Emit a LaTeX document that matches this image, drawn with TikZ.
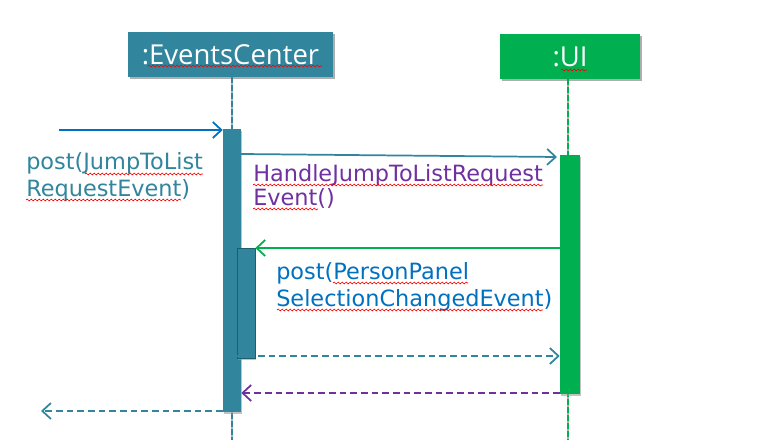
\documentclass[tikz,border=0pt]{standalone}
\usepackage{fontspec}
\setmainfont{DejaVu Sans}
\newfontfamily\titlefont{Open Sans}
\usetikzlibrary{arrows.meta,shadows,decorations.pathmorphing}
\definecolor{teal}{HTML}{31859C}
\definecolor{uigreen}{HTML}{00B050}
\definecolor{msgblue}{HTML}{0070C0}
\definecolor{msgpurple}{HTML}{7030A0}
\tikzset{
  px/.style={x=0.75pt,y=-0.75pt},
  titlebox/.style={rectangle, inner sep=0pt, text=white, font=\titlefont\fontsize{20.6}{24}\selectfont,
     drop shadow={shadow xshift=1.2pt, shadow yshift=-1.6pt, fill=black!45, opacity=0.7}},
  actbar/.style={rectangle, inner sep=0pt, minimum width=13.5pt,
     drop shadow={shadow xshift=0.8pt, shadow yshift=-1.2pt, fill=black!40, opacity=0.6}},
  lifebase/.style={line width=2pt, black!30},
  lifedash/.style={line width=1.6pt, dash pattern=on 4pt off 2pt},
  msg/.style={line width=1.3pt, -{Straight Barb[length=6.5pt,width=12pt,line width=1.3pt]}},
  ret/.style={msg, dash pattern=on 5pt off 3pt},
  lbl/.style={inner sep=0pt, anchor=base west, font=\fontsize{16.8}{20}\selectfont},
  squig/.style={red, line width=0.5pt, decorate, decoration={snake, amplitude=0.7pt, segment length=3pt}}
}
\begin{document}
\begin{tikzpicture}[px]
\useasboundingbox (0,0) rectangle (757,448);
% lifelines
\coordinate (ecEnd) at (232,440);
\coordinate (uiEnd) at (568,440);
\node[titlebox, fill=teal, minimum width=153.75pt, minimum height=33.75pt] (ec) at (230.5,54.5) {:EventsCenter};
\node[titlebox, fill=uigreen, minimum width=105pt, minimum height=33.75pt] (ui) at (570,56.5) {:UI};
\draw[lifebase] (ec.south -| ecEnd) -- (ecEnd);
\draw[lifedash, teal] (ec.south -| ecEnd) -- (ecEnd);
\draw[lifebase] (ui.south -| uiEnd) -- (uiEnd);
\draw[lifedash, uigreen] (ui.south -| uiEnd) -- (uiEnd);
% activation bars
\node[actbar, fill=teal, minimum height=212.25pt] (ecA) at (232,270.5) {};
\node[actbar, fill=teal, draw=teal!70!black, line width=0.4pt, minimum height=82.5pt] (ecB) at (246,303) {};
\node[actbar, fill=uigreen, minimum width=15pt, minimum height=179.25pt] (uiA) at (570,274.5) {};
% messages
\coordinate (m1s) at (59,130);
\draw[msg, msgblue] (m1s) -- (m1s -| ecA.west);
\coordinate (m2s) at (241,154);
\coordinate (m2e) at (557,157);
\draw[msg, teal] (m2s) -- (m2e);
\coordinate (m3) at (0,248);
\draw[msg, uigreen] (m3 -| uiA.west) -- (m3 -| ecB.east);
\coordinate (m4) at (0,356);
\draw[ret, teal] (m4 -| ecB.west) -- (m4 -| uiA.west);
\coordinate (m5) at (0,393);
\draw[ret, msgpurple] (m5 -| uiA.west) -- (m5 -| ecA.east);
\coordinate (m6e) at (41,411);
\draw[ret, teal] (m6e -| ecA.west) -- (m6e);
% labels
\node[lbl, text=teal] (l1a) at (26,170) {post(JumpToList};
\node[lbl, text=teal] (l1b) at (26,197) {RequestEvent)};
\node[lbl, text=msgpurple] (l2a) at (253,182) {HandleJumpToListRequest};
\node[lbl, text=msgpurple] (l2b) at (253,206) {Event()};
\node[lbl, text=msgblue] (l3a) at (276,280) {post(PersonPanel};
\node[lbl, text=msgblue] (l3b) at (276,307) {SelectionChangedEvent)};
% spell-check squiggles
\draw[squig] (85,174) -- (203,174);
\draw[squig] (26,200) -- (181,200);
\draw[squig] (253,185) -- (543,185);
\draw[squig] (253,209) -- (318,209);
\draw[squig] (333,283) -- (468,283);
\draw[squig] (277,310) -- (543,310);
\draw[squig] (148,66) -- (322,66);
\draw[squig] (561,70) -- (587,70);
\end{tikzpicture}
\end{document}
